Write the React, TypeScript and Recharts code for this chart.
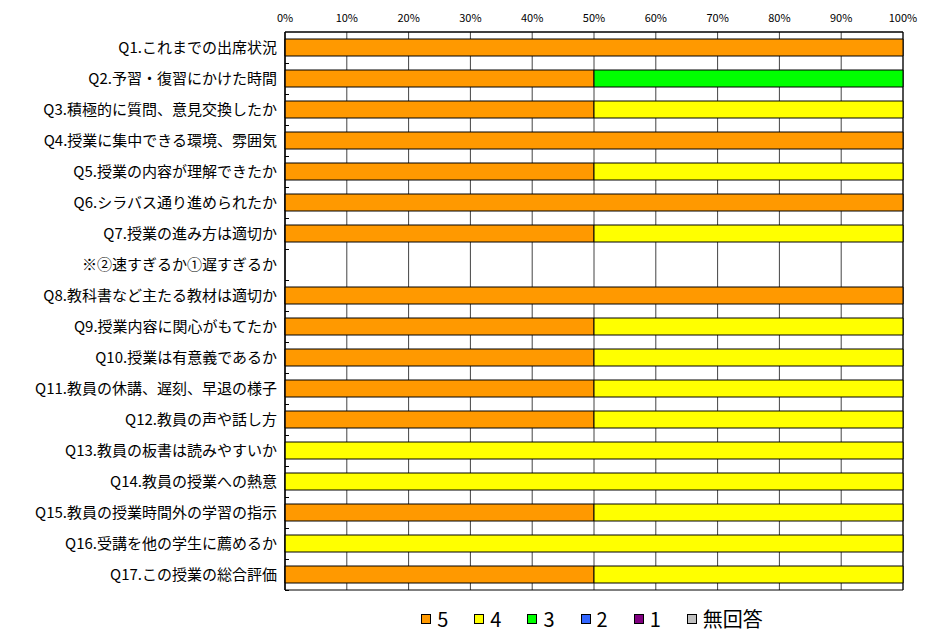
import { BarChart, Bar, XAxis, YAxis, CartesianGrid, Legend, ReferenceArea } from "recharts";

// ─── Data ─────────────────────────────────────────────────────────────────────
const QUESTIONS = [
  "Q1.これまでの出席状況",
  "Q2.予習・復習にかけた時間",
  "Q3.積極的に質問、意見交換したか",
  "Q4.授業に集中できる環境、雰囲気",
  "Q5.授業の内容が理解できたか",
  "Q6.シラバス通り進められたか",
  "Q7.授業の進み方は適切か",
  "※②速すぎるか①遅すぎるか",
  "Q8.教科書など主たる教材は適切か",
  "Q9.授業内容に関心がもてたか",
  "Q10.授業は有意義であるか",
  "Q11.教員の休講、遅刻、早退の様子",
  "Q12.教員の声や話し方",
  "Q13.教員の板書は読みやすいか",
  "Q14.教員の授業への熱意",
  "Q15.教員の授業時間外の学習の指示",
  "Q16.受講を他の学生に薦めるか",
  "Q17.この授業の総合評価",
];

const SCORE_5 = [100, 50, 50, 100, 50, 100, 50, 0, 100, 50, 50, 50, 50, 0, 0, 50, 0, 50];
const SCORE_4 = [0, 0, 50, 0, 50, 0, 50, 0, 0, 50, 50, 50, 50, 100, 100, 50, 100, 50];
const SCORE_3 = [0, 50, 0, 0, 0, 0, 0, 0, 0, 0, 0, 0, 0, 0, 0, 0, 0, 0];
const SCORE_2 = [0, 0, 0, 0, 0, 0, 0, 0, 0, 0, 0, 0, 0, 0, 0, 0, 0, 0];
const SCORE_1 = [0, 0, 0, 0, 0, 0, 0, 0, 0, 0, 0, 0, 0, 0, 0, 0, 0, 0];
const NO_ANSWER = [0, 0, 0, 0, 0, 0, 0, 0, 0, 0, 0, 0, 0, 0, 0, 0, 0, 0];

const PERCENT_TICKS = [0, 10, 20, 30, 40, 50, 60, 70, 80, 90, 100];

const SERIES = [
  { key: "5", values: SCORE_5, color: "#ff9900" },
  { key: "4", values: SCORE_4, color: "#ffff00" },
  { key: "3", values: SCORE_3, color: "#00ff00" },
  { key: "2", values: SCORE_2, color: "#3366ff" },
  { key: "1", values: SCORE_1, color: "#800080" },
  { key: "無回答", values: NO_ANSWER, color: "#c0c0c0" },
];

const data = QUESTIONS.map((q, i) => {
  const row: Record<string, string | number> = { q };
  SERIES.forEach((s) => {
    row[s.key] = s.values[i];
  });
  return row;
});

const FONT = '"Noto Sans CJK JP", "Noto Sans", sans-serif';

// ─── Axis tick with boundary marks ────────────────────────────────────────────
function QuestionTick(props: any) {
  const { x, y, payload } = props;
  const half = payload?.offset ?? 15.5;
  const ly = Math.round(y + half) + 0.5;
  return (
    <g>
      <text x={x} y={y} dy="0.36em" textAnchor="end" fontSize={15} fill="#000" fontFamily={FONT}>
        {payload.value}
      </text>
      <line x1={x + 8} x2={x + 12} y1={ly} y2={ly} stroke="#000" strokeWidth={1} />
    </g>
  );
}

// ─── Legend ───────────────────────────────────────────────────────────────────
function ScoreLegend() {
  return (
    <div
      style={{
        height: 43,
        boxSizing: "border-box",
        paddingTop: 18,
        paddingRight: 4,
        display: "flex",
        justifyContent: "center",
        gap: 26,
        fontFamily: FONT,
      }}
    >
      {SERIES.map((s) => (
        <div key={s.key} style={{ display: "flex", alignItems: "center", height: 22 }}>
          <span
            style={{
              display: "inline-block",
              width: 8,
              height: 8,
              background: s.color,
              border: "1px solid #000",
              marginRight: 6,
            }}
          />
          <span style={{ fontSize: 20, lineHeight: "22px", color: "#000" }}>{s.key}</span>
        </div>
      ))}
    </div>
  );
}

export default function App() {
  return (
    <div style={{ position: "absolute", left: 0, top: 0, background: "#fff", fontFamily: FONT }}>
      <BarChart
        width={939}
        height={633}
        data={data}
        layout="vertical"
        margin={{ top: 0, right: 36, left: 0, bottom: 0 }}
      >
        <CartesianGrid horizontal={false} stroke="#444" />
        <XAxis
          type="number"
          orientation="top"
          domain={[0, 100]}
          ticks={PERCENT_TICKS}
          interval={0}
          tickFormatter={(v) => `${v}%`}
          axisLine={{ stroke: "#000" }}
          tickLine={false}
          tickSize={0}
          tickMargin={10}
          height={32}
          tick={{ fontSize: 11, fill: "#000", fontFamily: FONT }}
        />
        <YAxis
          type="category"
          dataKey="q"
          width={285}
          interval={0}
          axisLine={{ stroke: "#000" }}
          tickLine={false}
          tickSize={0}
          tickMargin={8}
          tick={<QuestionTick />}
        />
        <ReferenceArea x1={0} x2={100} fill="none" stroke="#000" />
        <Legend
          verticalAlign="bottom"
          content={<ScoreLegend />}
          wrapperStyle={{ left: 285, width: 618 }}
        />
        {SERIES.map((s) => (
          <Bar
            key={s.key}
            dataKey={s.key}
            stackId="a"
            fill={s.color}
            stroke="#000"
            strokeWidth={1}
            barSize={17}
            isAnimationActive={false}
          />
        ))}
      </BarChart>
    </div>
  );
}
